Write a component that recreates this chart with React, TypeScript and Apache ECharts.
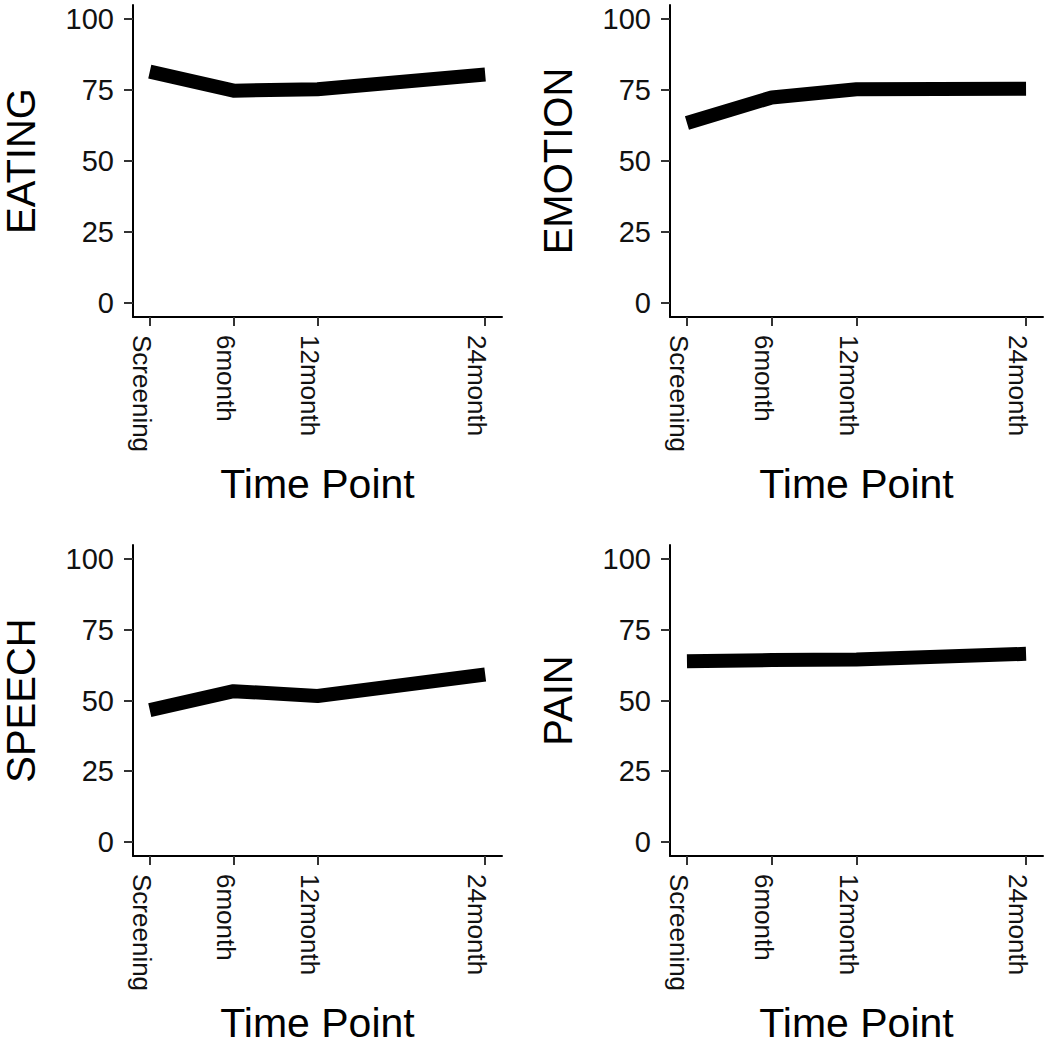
import React, { useEffect, useRef } from "react";
import * as echarts from "echarts";

const timePoints = [0, 6, 12, 24];
const timeLabels = ["Screening", "6month", "12month", "24month"];
const yTicks = [0, 25, 50, 75, 100];

const eating = [81.5, 74.8, 75.3, 80.5];
const emotion = [63.4, 72.4, 75.3, 75.5];
const speech = [46.6, 53.3, 51.6, 59.2];
const pain = [63.9, 64.3, 64.5, 66.5];

const panelNames = ["EATING", "EMOTION", "SPEECH", "PAIN"];
const panelData = [eating, emotion, speech, pain];

const FONT = "'Liberation Sans', Arial, sans-serif";

export default function App() {
  const ref = useRef<HTMLDivElement>(null);
  useEffect(() => {
    if (!ref.current) return;
    const chart = echarts.init(ref.current, null, { renderer: "svg" });
    const lefts = [129, 670, 129, 670];
    const tops = [5, 5, 545, 545];
    const grids = lefts.map((l, i) => ({
      left: l,
      top: tops[i],
      width: 373,
      height: 312,
      containLabel: false,
    }));
    const xAxes = grids.map((_, i) => ({
      type: "value",
      gridIndex: i,
      min: -1.2,
      max: 25.2,
      name: "Time Point",
      nameLocation: "middle",
      nameGap: 146,
      nameTextStyle: { fontFamily: FONT, fontSize: 41, color: "#000" },
      splitLine: { show: false },
      axisLine: { show: true, onZero: false, lineStyle: { color: "#000", width: 2 } },
      axisTick: {
        show: true,
        customValues: timePoints,
        length: 9,
        lineStyle: { color: "#333", width: 2 },
      },
      axisLabel: {
        customValues: timePoints,
        rotate: -90,
        margin: 18,
        verticalAlign: "top",
        lineHeight: 16,
        fontFamily: FONT,
        fontSize: 26,
        color: "#111",
        formatter: (v: number) => timeLabels[timePoints.indexOf(v)] ?? "",
      },
    }));
    const yAxes = grids.map((_, i) => ({
      type: "value",
      gridIndex: i,
      min: -5,
      max: 105,
      name: panelNames[i],
      nameLocation: "middle",
      nameGap: 92,
      nameRotate: 90,
      nameTextStyle: { fontFamily: FONT, fontSize: 40, color: "#000" },
      splitLine: { show: false },
      axisLine: { show: true, onZero: false, lineStyle: { color: "#000", width: 2 } },
      axisTick: {
        show: true,
        customValues: yTicks,
        length: 9,
        lineStyle: { color: "#333", width: 2 },
      },
      axisLabel: {
        customValues: yTicks,
        margin: 19,
        fontFamily: FONT,
        fontSize: 29,
        color: "#111",
      },
    }));
    const series = panelData.map((d, i) => ({
      type: "line",
      xAxisIndex: i,
      yAxisIndex: i,
      data: d.map((v, j) => [timePoints[j], v]),
      symbol: "none",
      lineStyle: { color: "#000", width: 14, cap: "butt", join: "round" },
    }));
    chart.setOption({
      animation: false,
      backgroundColor: "#fff",
      grid: grids,
      xAxis: xAxes,
      yAxis: yAxes,
      series,
    });
    return () => chart.dispose();
  }, []);
  return (
    <div
      ref={ref}
      style={{ position: "absolute", left: 0, top: 0, width: 1050, height: 1044 }}
    />
  );
}
